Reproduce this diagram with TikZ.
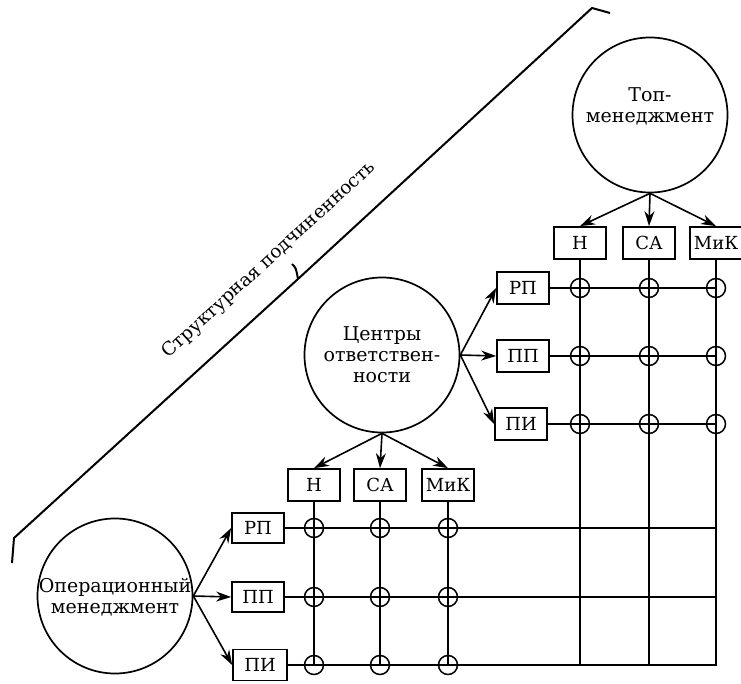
\documentclass[tikz,border=0pt]{standalone}
\usepackage{fontspec}
\setmainfont{DejaVu Serif}
\usetikzlibrary{arrows.meta}
\begin{document}
\begin{tikzpicture}[x=1pt,y=-1pt,
  big/.style={draw, circle, line width=1.7pt, minimum size=155pt, inner sep=0pt},
  bigtxt/.style={align=center, inner sep=0pt, font=\fontsize{19}{21}\selectfont},
  lab/.style={draw, line width=1.7pt, minimum width=52pt, minimum height=32pt, inner sep=1pt, font=\fontsize{18}{22}\selectfont},
  xnode/.style={draw, circle, line width=1.5pt, minimum size=19pt, inner sep=0pt},
  arr/.style={-{Stealth[length=15pt,width=10pt]}, line width=1.6pt},
  gridline/.style={line width=1.6pt},
  bracket/.style={line width=2pt}
]
\useasboundingbox (0,0) rectangle (741,684);

% bracket
\coordinate (k1) at (12,563);
\coordinate (k2) at (14,538);
\coordinate (k3) at (298,279);
\coordinate (k4) at (292,264);
\coordinate (k5) at (592,8);
\coordinate (k6) at (610,13);
\draw[bracket] (k1) -- (k2) -- (k3) -- (k5) -- (k6);
\draw[bracket] (k4) .. controls (296,268) .. (k3);
\node[font=\fontsize{18.5}{18.5}\selectfont, rotate=42.5] (sp) at (269,260) {Структурная подчиненность};

% circles
\node[big] (top) at (650,115) {};
\node[bigtxt] (toptxt) at (650,106) {Топ-\\менеджмент};
\node[big] (mid) at (382,355) {};
\node[bigtxt] (midtxt) at (382,355) {Центры\\ответствен-\\ности};
\node[big] (bot) at (115,596) {};
\node[bigtxt] (bottxt) at (115,597) {Операционный\\менеджмент};

% top section boxes
\node[lab] (tN) at (580,243) {Н};
\node[lab] (tS) at (649,243) {СА};
\node[lab] (tM) at (716,243) {МиК};
\node[lab] (tR) at (523,288) {РП};
\node[lab] (tP) at (523,356) {ПП};
\node[lab] (tI) at (521,424) {ПИ};

% middle section boxes
\node[lab] (mN) at (314,485) {Н};
\node[lab] (mS) at (380,485) {СА};
\node[lab] (mM) at (448,485) {МиК};
\node[lab, minimum height=30pt] (bR) at (258,528) {РП};
\node[lab, minimum height=30pt] (bP) at (258,597) {ПП};
\node[lab, minimum height=31pt, minimum width=54pt] (bI) at (260,665) {ПИ};

% arrows
\draw[arr] (top.south) -- (tN.north);
\draw[arr] (top.south) -- (tS.north);
\draw[arr] (top.south) -- (tM.north);
\draw[arr] (mid.east) -- (tR.west);
\draw[arr] (mid.east) -- (tP.west);
\draw[arr] (mid.east) -- (tI.west);
\draw[arr] (mid.south) -- (mN.north);
\draw[arr] (mid.south) -- (mS.north);
\draw[arr] (mid.south) -- (mM.north);
\draw[arr] (bot.east) -- (bR.west);
\draw[arr] (bot.east) -- (bP.west);
\draw[arr] (bot.east) -- (bI.west);

% top grid markers
\foreach \c/\x in {1/580,2/649,3/716}
  \foreach \r/\y in {1/288,2/356,3/424}
    \node[xnode] (t\c\r) at (\x,\y) {};
% bottom grid markers
\foreach \c/\x in {1/314,2/380,3/448}
  \foreach \r/\y in {1/528,2/597,3/665}
    \node[xnode] (b\c\r) at (\x,\y) {};

% end coordinates
\coordinate (e1) at (717,528);
\coordinate (e2) at (717,597);
\coordinate (e3) at (717,665);
\coordinate (f1) at (580,665);
\coordinate (f2) at (649,665);
\coordinate (f3) at (716,665);

% top rows and columns
\draw[gridline] (tR.east) -- (t31.center);
\draw[gridline] (tP.east) -- (t32.center);
\draw[gridline] (tI.east) -- (t33.center);
\draw[gridline] (tN.south) -- (f1);
\draw[gridline] (tS.south) -- (f2);
\draw[gridline] (tM.south) -- (f3);

% bottom rows and columns
\draw[gridline] (bR.east) -- (e1);
\draw[gridline] (bP.east) -- (e2);
\draw[gridline] (bI.east) -- (e3);
\draw[gridline] (mN.south) -- (b13.center);
\draw[gridline] (mS.south) -- (b23.center);
\draw[gridline] (mM.south) -- (b33.center);
\end{tikzpicture}
\end{document}
